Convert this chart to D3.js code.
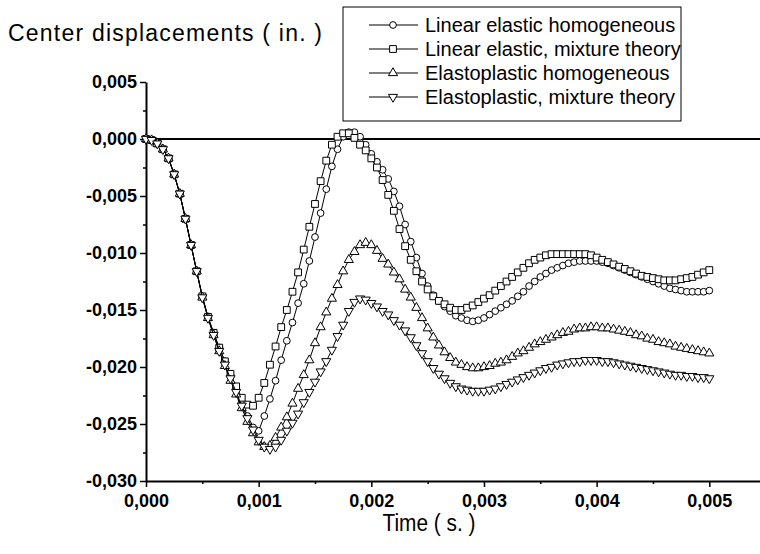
<!DOCTYPE html>
<html>
<head>
<meta charset="utf-8">
<script src="https://cdn.jsdelivr.net/npm/d3@7"></script>
<style>
  body { margin: 0; background: #fff; }
  svg { font-family: "Liberation Sans", Arial, sans-serif; }
</style>
</head>
<body>
<div id="chart"></div>
<script>
// sampling step of the time series (s)
var dt = 0.00005;

var seriesNames = ["Linear elastic homogeneous", "Linear elastic, mixture theory",
                   "Elastoplastic homogeneous", "Elastoplastic, mixture theory"];
var seriesMarks = ["circle", "square", "triangle", "triangleDown"];

var linHomo = [0, -0.0001, -0.0004, -0.0009, -0.0017, -0.0031, -0.0048, -0.0070, -0.0093, -0.0116,
  -0.0138, -0.0156, -0.0170, -0.0183, -0.0195, -0.0207, -0.0219, -0.0231, -0.0243, -0.0253,
  -0.0256, -0.0243, -0.0228, -0.0212, -0.0194, -0.0177, -0.0161, -0.0144, -0.0127, -0.0107,
  -0.0086, -0.0065, -0.0044, -0.0024, -0.0009, 0.0002, 0.0006, 0.0006, 0.0002, -0.0005,
  -0.0013, -0.0020, -0.0027, -0.0035, -0.0046, -0.0059, -0.0075, -0.0090, -0.0104, -0.0118,
  -0.0129, -0.0137, -0.0142, -0.0147, -0.0151, -0.0155, -0.0157, -0.0159, -0.0160, -0.0159,
  -0.0157, -0.0154, -0.0151, -0.0148, -0.0145, -0.0142, -0.0138, -0.0134, -0.0129, -0.0125,
  -0.0121, -0.0118, -0.0115, -0.0113, -0.0111, -0.0109, -0.0108, -0.0107, -0.0107, -0.0107,
  -0.0107, -0.0108, -0.0109, -0.0111, -0.0113, -0.0115, -0.0117, -0.0119, -0.0121, -0.0123,
  -0.0125, -0.0127, -0.0129, -0.0131, -0.0132, -0.0133, -0.0134, -0.0134, -0.0134, -0.0134,
  -0.0133];

var linMix = [0, -0.0001, -0.0004, -0.0009, -0.0017, -0.0031, -0.0048, -0.0070, -0.0093, -0.0116,
  -0.0138, -0.0156, -0.0170, -0.0183, -0.0195, -0.0206, -0.0217, -0.0227, -0.0233, -0.0234,
  -0.0227, -0.0214, -0.0198, -0.0182, -0.0165, -0.0150, -0.0134, -0.0117, -0.0097, -0.0077,
  -0.0057, -0.0037, -0.0019, -0.0005, 0.0002, 0.0005, 0.0005, 0.0001, -0.0005, -0.0010,
  -0.0017, -0.0025, -0.0036, -0.0049, -0.0063, -0.0079, -0.0094, -0.0106, -0.0116, -0.0125,
  -0.0132, -0.0138, -0.0142, -0.0145, -0.0148, -0.0150, -0.0150, -0.0148, -0.0146, -0.0143,
  -0.0140, -0.0137, -0.0133, -0.0129, -0.0125, -0.0121, -0.0117, -0.0113, -0.0109, -0.0106,
  -0.0104, -0.0102, -0.0101, -0.0101, -0.0101, -0.0101, -0.0101, -0.0101, -0.0101, -0.0102,
  -0.0104, -0.0106, -0.0108, -0.0110, -0.0112, -0.0114, -0.0116, -0.0118, -0.0120, -0.0121,
  -0.0122, -0.0123, -0.0124, -0.0124, -0.0124, -0.0123, -0.0122, -0.0121, -0.0119, -0.0117,
  -0.0115];

var epHomo = [0, -0.0001, -0.0004, -0.0009, -0.0017, -0.0031, -0.0048, -0.0070, -0.0093, -0.0116,
  -0.0139, -0.0157, -0.0172, -0.0186, -0.0199, -0.0212, -0.0224, -0.0236, -0.0248, -0.0258,
  -0.0266, -0.0270, -0.0269, -0.0262, -0.0253, -0.0244, -0.0232, -0.0219, -0.0207, -0.0194,
  -0.0179, -0.0165, -0.0152, -0.0140, -0.0128, -0.0116, -0.0106, -0.0099, -0.0093, -0.0091,
  -0.0093, -0.0098, -0.0105, -0.0110, -0.0117, -0.0123, -0.0132, -0.0139, -0.0148, -0.0157,
  -0.0166, -0.0174, -0.0181, -0.0187, -0.0192, -0.0196, -0.0198, -0.0200, -0.0201, -0.0201,
  -0.0200, -0.0199, -0.0197, -0.0196, -0.0194, -0.0191, -0.0188, -0.0186, -0.0183, -0.0180,
  -0.0178, -0.0176, -0.0174, -0.0172, -0.0170, -0.0169, -0.0167, -0.0166, -0.0166, -0.0165,
  -0.0165, -0.0166, -0.0166, -0.0167, -0.0168, -0.0169, -0.0170, -0.0172, -0.0173, -0.0175,
  -0.0176, -0.0178, -0.0179, -0.0180, -0.0182, -0.0183, -0.0184, -0.0185, -0.0186, -0.0187,
  -0.0188];

var epMix = [0, -0.0001, -0.0004, -0.0009, -0.0017, -0.0031, -0.0048, -0.0070, -0.0093, -0.0116,
  -0.0139, -0.0157, -0.0172, -0.0186, -0.0198, -0.0210, -0.0222, -0.0234, -0.0245, -0.0255,
  -0.0264, -0.0270, -0.0272, -0.0270, -0.0264, -0.0256, -0.0249, -0.0241, -0.0231, -0.0222,
  -0.0213, -0.0204, -0.0195, -0.0185, -0.0173, -0.0163, -0.0151, -0.0143, -0.0140, -0.0141,
  -0.0144, -0.0147, -0.0151, -0.0154, -0.0159, -0.0163, -0.0168, -0.0174, -0.0181, -0.0188,
  -0.0195, -0.0201, -0.0206, -0.0210, -0.0214, -0.0217, -0.0219, -0.0220, -0.0221, -0.0221,
  -0.0221, -0.0220, -0.0219, -0.0217, -0.0215, -0.0213, -0.0211, -0.0209, -0.0207, -0.0205,
  -0.0203, -0.0201, -0.0200, -0.0198, -0.0197, -0.0196, -0.0195, -0.0195, -0.0194, -0.0194,
  -0.0194, -0.0195, -0.0195, -0.0196, -0.0197, -0.0198, -0.0199, -0.0200, -0.0201, -0.0202,
  -0.0203, -0.0204, -0.0205, -0.0206, -0.0207, -0.0207, -0.0208, -0.0208, -0.0209, -0.0209,
  -0.0210];

var xTicks = [0, 0.001, 0.002, 0.003, 0.004, 0.005];
var yTicks = [0.005, 0, -0.005, -0.010, -0.015, -0.020, -0.025, -0.030];

var width = 760, height = 554;

var svg = d3.select("#chart").append("svg").attr("width", width).attr("height", height);

var x = d3.scaleLinear().domain([0, 0.00545]).range([146, 760]);
var y = d3.scaleLinear().domain([-0.030, 0.005]).range([481, 82]);

var locale = d3.formatLocale({decimal: ",", thousands: ".", grouping: [3], currency: ["", ""], minus: "-"});
var fmt = locale.format(".3f");

// minor ticks
svg.append("g")
    .attr("transform", "translate(0," + y(-0.030) + ")")
    .call(d3.axisBottom(x).tickValues(d3.range(0.0005, 0.0055, 0.001)).tickSize(3).tickFormat(""))
    .call(function(g) { g.select(".domain").remove(); });
svg.append("g")
    .attr("transform", "translate(" + x(0) + ",0)")
    .call(d3.axisLeft(y).tickValues(d3.range(-0.0275, 0.005, 0.005)).tickSize(3).tickFormat(""))
    .call(function(g) { g.select(".domain").remove(); });

var xAxis = svg.append("g")
    .attr("class", "axis")
    .attr("transform", "translate(0," + y(-0.030) + ")")
    .call(d3.axisBottom(x).tickValues(xTicks).tickSize(6).tickSizeOuter(0).tickPadding(7).tickFormat(fmt));

var yAxis = svg.append("g")
    .attr("class", "axis")
    .attr("transform", "translate(" + x(0) + ",0)")
    .call(d3.axisLeft(y).tickValues(yTicks).tickSize(6).tickSizeOuter(0).tickPadding(3).tickFormat(fmt));

svg.selectAll(".axis text")
    .attr("font-size", 18)
    .attr("font-weight", "bold")
    .attr("fill", "#000");
svg.selectAll(".axis .domain").attr("stroke-width", 2);
svg.selectAll("line").attr("stroke-width", 1.5);

// zero line
svg.append("line")
    .attr("x1", x(0)).attr("x2", width)
    .attr("y1", y(0)).attr("y2", y(0))
    .attr("stroke", "#000")
    .attr("stroke-width", 2);

var symbolTypes = {
    circle: d3.symbolCircle,
    square: d3.symbolSquare,
    triangle: d3.symbolTriangle,
    triangleDown: d3.symbolTriangle
};
var symbolSizes = {circle: 36, square: 46, triangle: 36, triangleDown: 36};

function marker(sel, kind) {
    sel.attr("d", d3.symbol().type(symbolTypes[kind]).size(symbolSizes[kind])())
        .attr("fill", "#fff")
        .attr("stroke", "#000")
        .attr("stroke-width", 1);
}

var allSeries = [linHomo, linMix, epHomo, epMix];
var line = d3.line()
    .x(function(d, i) { return x(i * dt); })
    .y(function(d) { return y(d); });

allSeries.forEach(function(values, k) {
    var g = svg.append("g");
    g.append("path")
        .attr("d", line(values))
        .attr("fill", "none")
        .attr("stroke", "#000")
        .attr("stroke-width", 1);
    g.selectAll("path.pt")
        .data(values)
        .enter().append("path")
        .attr("class", "pt")
        .attr("transform", function(d, i) {
            return "translate(" + x(i * dt) + "," + y(d) + ")" + (seriesMarks[k] == "triangleDown" ? " rotate(180)" : "");
        })
        .call(marker, seriesMarks[k]);
});

// titles
svg.append("text")
    .attr("x", 8)
    .attr("y", 41)
    .attr("font-size", 23)
    .attr("textLength", 314)
    .attr("lengthAdjust", "spacing")
    .text("Center displacements ( in. )");

svg.append("text")
    .attr("x", 429)
    .attr("y", 531)
    .attr("text-anchor", "middle")
    .attr("font-size", 23)
    .attr("textLength", 93)
    .attr("lengthAdjust", "spacingAndGlyphs")
    .text("Time ( s. )");

// legend
var legend = svg.append("g");
legend.append("rect")
    .attr("x", 343).attr("y", 7)
    .attr("width", 338).attr("height", 114)
    .attr("fill", "#fff")
    .attr("stroke", "#000")
    .attr("stroke-width", 1);

var item = legend.selectAll("g.item")
    .data(seriesNames)
    .enter().append("g")
    .attr("class", "item")
    .attr("transform", function(d, i) { return "translate(0," + (25 + i * 24) + ")"; });

item.append("line")
    .attr("x1", 369).attr("x2", 418)
    .attr("stroke", "#000")
    .attr("stroke-width", 1);

item.append("path")
    .attr("transform", function(d, i) { return "translate(393,0)" + (seriesMarks[i] == "triangleDown" ? " rotate(180)" : ""); })
    .each(function(d, i) { d3.select(this).call(marker, seriesMarks[i]); });

item.append("text")
    .attr("x", 425)
    .attr("dy", "0.35em")
    .attr("font-size", 20)
    .text(function(d) { return d; });
</script>
</body>
</html>
